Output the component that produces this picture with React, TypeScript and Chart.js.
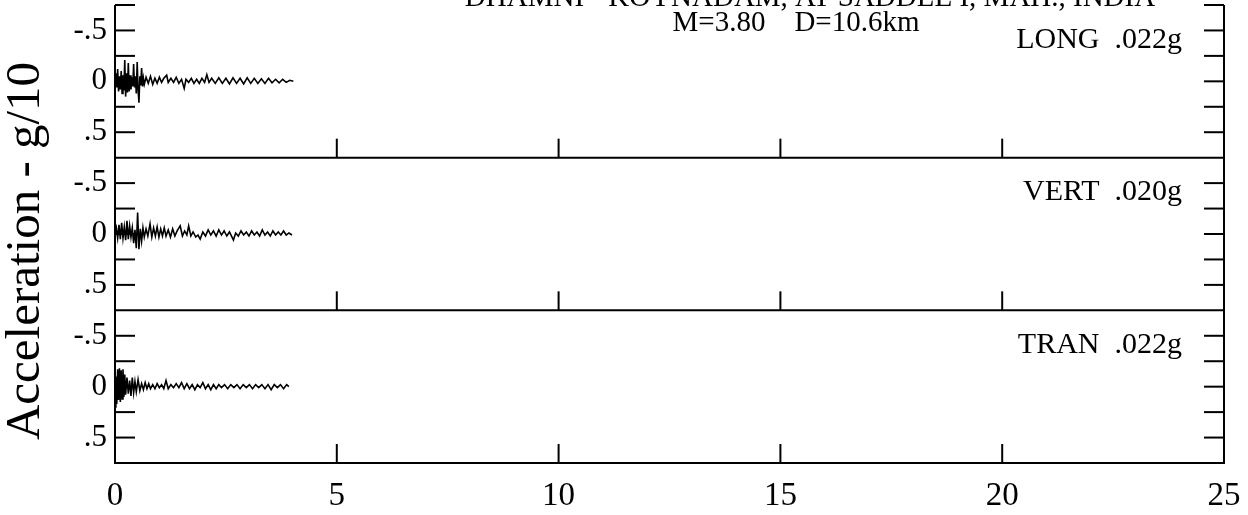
import React, { useEffect, useRef } from "react";
import { Chart, registerables } from "chart.js";

Chart.register(...registerables);

// ---- Data (time in s, acceleration in g/10) ----
const titleLine1 = "DHAMNI - KOYNADAM, AT SADDLE I, MAH., INDIA";
const titleLine2 = "M=3.80    D=10.6km";
const yAxisTitle = "Acceleration - g/10";

const xTickValues = [0, 5, 10, 15, 20, 25];
const yTickValues = [-0.5, 0, 0.5];
const yTickLabels = ["-.5", "0", ".5"];
const yMinorTicks = [-0.75, -0.5, -0.25, 0, 0.25, 0.5];

const componentNames = ["LONG", "VERT", "TRAN"];
const peakLabels = [".022g", ".020g", ".022g"];

const longTime = [
  0, 0.02, 0.04, 0.06, 0.08, 0.1, 0.12, 0.14, 0.16, 0.18, 0.2, 0.22, 0.24, 0.26, 0.28, 0.3, 0.32, 0.34, 0.36, 0.38,
  0.4, 0.42, 0.44, 0.46, 0.48, 0.5, 0.52, 0.54, 0.56, 0.58, 0.6, 0.62, 0.64, 0.66, 0.7, 0.75, 0.8, 0.85, 0.9, 0.95,
  1.0, 1.05, 1.1, 1.165, 1.2, 1.26, 1.32, 1.38, 1.44, 1.5, 1.56, 1.6, 1.66, 1.72, 1.78, 1.84, 1.9, 1.96, 2.02, 2.07,
  2.12, 2.18, 2.26, 2.34, 2.42, 2.5, 2.58, 2.66, 2.74, 2.82, 2.9, 2.98, 3.06, 3.14, 3.22, 3.3, 3.38, 3.46, 3.54, 3.62,
  3.7, 3.78, 3.86, 3.94, 4.02,
];
const longAccel = [
  0, -0.08, 0.06, -0.12, 0.1, -0.05, 0.08, -0.1, 0.12, -0.06, 0.09, -0.21, 0.15, -0.08, 0.11, -0.18, 0.1, -0.06, 0.08, -0.04,
  0.05, -0.17, 0.06, -0.05, 0.12, -0.19, 0.08, 0.21, -0.05, 0.04, -0.13, 0.05, -0.03, 0.03, -0.04, 0.02, -0.05, 0.03, -0.03, 0.02,
  -0.04, 0.01, -0.03, -0.06, 0.01, -0.03, 0.01, -0.04, 0.02, -0.02, 0.07, -0.02, 0.01, -0.03, 0.02, -0.02, 0.02, -0.03, 0.01, -0.065,
  0.01, -0.03, 0.02, -0.035, 0.02, -0.03, 0.025, -0.035, 0.02, -0.03, 0.025, -0.035, 0.02, -0.03, 0.02, -0.025, 0.02, -0.03, 0.015, -0.02,
  0.015, -0.02, 0.01, -0.01, 0,
];

const vertTime = [
  0, 0.03, 0.06, 0.09, 0.12, 0.15, 0.18, 0.21, 0.24, 0.27, 0.3, 0.33, 0.36, 0.39, 0.42, 0.45, 0.48, 0.51, 0.54, 0.57,
  0.6, 0.63, 0.66, 0.7, 0.74, 0.79, 0.83, 0.87, 0.91, 0.95, 0.99, 1.03, 1.07, 1.11, 1.15, 1.2, 1.25, 1.3, 1.35, 1.4,
  1.47, 1.52, 1.57, 1.62, 1.66, 1.71, 1.76, 1.82, 1.87, 1.92, 1.98, 2.04, 2.1, 2.16, 2.22, 2.28, 2.34, 2.4, 2.46, 2.52,
  2.58, 2.67, 2.72, 2.78, 2.84, 2.9, 2.96, 3.02, 3.08, 3.14, 3.2, 3.26, 3.32, 3.38, 3.44, 3.5, 3.56, 3.62, 3.68, 3.74,
  3.8, 3.86, 3.92, 3.99,
];
const vertAccel = [
  0, -0.06, 0.04, -0.09, 0.05, -0.11, 0.04, -0.07, 0.06, -0.13, 0.05, -0.08, 0.03, -0.06, 0.09, -0.04, 0.14, -0.21, 0.15, -0.05,
  0.07, -0.06, 0.03, -0.05, 0.02, -0.1, 0.03, -0.06, 0.02, -0.07, 0.03, -0.05, 0.02, -0.06, 0.02, -0.04, 0.03, -0.05, 0.02, -0.03,
  -0.08, 0.02, -0.03, 0.01, -0.08, 0.02, -0.02, 0.03, 0.01, 0.05, -0.02, 0.02, -0.04, 0.01, -0.03, 0.02, -0.04, 0.01, -0.03, 0.02,
  -0.02, 0.06, -0.01, 0.02, -0.03, 0.01, -0.02, 0.02, -0.03, 0.01, -0.02, 0.02, -0.04, 0.01, -0.02, 0.02, -0.03, 0.01, -0.02, 0.01,
  -0.03, 0.01, -0.01, 0.01,
];

const tranTime = [
  0, 0.02, 0.04, 0.06, 0.08, 0.1, 0.12, 0.14, 0.16, 0.18, 0.2, 0.22, 0.24, 0.27, 0.3, 0.33, 0.36, 0.39, 0.42, 0.45,
  0.48, 0.52, 0.56, 0.6, 0.64, 0.68, 0.72, 0.76, 0.8, 0.85, 0.9, 0.95, 1.0, 1.05, 1.1, 1.15, 1.2, 1.26, 1.32, 1.38,
  1.44, 1.5, 1.56, 1.62, 1.68, 1.74, 1.8, 1.86, 1.92, 1.98, 2.04, 2.1, 2.16, 2.22, 2.28, 2.34, 2.4, 2.47, 2.54, 2.61,
  2.68, 2.75, 2.82, 2.89, 2.96, 3.03, 3.1, 3.17, 3.24, 3.31, 3.38, 3.45, 3.52, 3.59, 3.66, 3.73, 3.8, 3.87, 3.92,
];
const tranAccel = [
  0.2, -0.1, 0.17, -0.17, 0.13, -0.18, 0.15, -0.16, 0.12, -0.17, 0.1, -0.12, 0.08, -0.09, 0.07, -0.06, 0.09, -0.09, 0.06, -0.05,
  0.05, -0.07, 0.04, -0.03, 0.03, -0.04, 0.02, -0.03, 0.02, -0.02, 0.02, -0.03, 0.01, -0.02, 0.02, -0.06, 0.02, -0.02, 0.01, -0.03,
  0.01, -0.04, 0.02, -0.03, 0.02, -0.02, 0.03, -0.02, 0.01, -0.04, 0.02, -0.02, 0.03, -0.02, 0.02, -0.02, 0.01, -0.02, 0.02, -0.02,
  0.01, -0.02, 0.02, -0.02, 0.01, -0.02, 0.02, -0.02, 0.01, -0.02, 0.02, -0.02, 0.03, -0.02, 0.01, -0.02, 0.02, -0.02, 0,
];

const SERIF = "'Liberation Serif', 'Times New Roman', serif";
const panelIds = ["yLong", "yVert", "yTran"];

const toPoints = (t: number[], a: number[]) => t.map((v, i) => ({ x: v, y: a[i] }));

const framePlugin = {
  id: "seismoFrame",
  afterDraw(chart: any) {
    const ctx: CanvasRenderingContext2D = chart.ctx;
    const xs = chart.scales.x;
    const { left, right, top, bottom } = chart.chartArea;
    const line = (x1: number, y1: number, x2: number, y2: number) => {
      ctx.beginPath();
      ctx.moveTo(x1, y1);
      ctx.lineTo(x2, y2);
      ctx.stroke();
    };
    ctx.save();
    ctx.strokeStyle = "#000";
    ctx.fillStyle = "#000";
    ctx.lineWidth = 2;
    ctx.lineCap = "butt";
    line(left, top, left, bottom + 1);
    line(right, top, right, bottom + 1);

    panelIds.forEach((id, i) => {
      const s = chart.scales[id];
      const yb = s.getPixelForValue(0.75);
      line(left - 1, yb, right + 1, yb);
      const ticks = i === 0 ? yMinorTicks : yMinorTicks.slice(1);
      ticks.forEach((v) => {
        const y = s.getPixelForValue(v);
        line(left, y, left + 20, y);
        line(right - 20, y, right, y);
      });
      xTickValues
        .filter((v) => v > xTickValues[0] && v < xTickValues[xTickValues.length - 1])
        .forEach((v) => {
          const x = xs.getPixelForValue(v);
          line(x, yb, x, yb - 19);
        });
      ctx.font = `31px ${SERIF}`;
      ctx.textAlign = "right";
      ctx.textBaseline = "middle";
      yTickValues.forEach((v, k) => {
        ctx.fillText(yTickLabels[k], left - 8, s.getPixelForValue(v));
      });
      ctx.font = `30px ${SERIF}`;
      ctx.textBaseline = "alphabetic";
      ctx.fillText(`${componentNames[i]}  ${peakLabels[i]}`, right - 42, s.getPixelForValue(-0.33));
    });

    ctx.font = `29px ${SERIF}`;
    ctx.textAlign = "center";
    ctx.textBaseline = "alphabetic";
    ctx.fillText(titleLine1, 810, 6);
    ctx.fillText(titleLine2, 796, 31);

    ctx.save();
    ctx.translate(26, 251);
    ctx.rotate(-Math.PI / 2);
    ctx.font = `49px ${SERIF}`;
    ctx.textAlign = "center";
    ctx.textBaseline = "middle";
    ctx.fillText(yAxisTitle, 0, 0);
    ctx.restore();
    ctx.restore();
  },
};

const panelScale = (): any => ({
  type: "linear",
  position: "left",
  stack: "panels",
  stackWeight: 1,
  min: -0.75,
  max: 0.75,
  reverse: true,
  grid: { display: false, drawTicks: false },
  border: { display: false },
  ticks: { display: false },
  afterFit: (s: any) => {
    s.width = 0;
  },
});

export default function App() {
  const ref = useRef<HTMLCanvasElement | null>(null);
  useEffect(() => {
    if (!ref.current) return;
    const series = [
      toPoints(longTime, longAccel),
      toPoints(vertTime, vertAccel),
      toPoints(tranTime, tranAccel),
    ];
    const chart = new Chart(ref.current, {
      type: "line",
      data: {
        datasets: series.map((d, i) => ({
          label: componentNames[i],
          data: d,
          yAxisID: panelIds[i],
          xAxisID: "x",
          borderColor: "#000",
          borderWidth: 1.6,
          pointRadius: 0,
          tension: 0,
          fill: false,
        })),
      },
      options: {
        animation: false,
        responsive: false,
        devicePixelRatio: 1,
        events: [],
        layout: { padding: { left: 115, right: 24, top: 5, bottom: 0 } },
        plugins: { legend: { display: false }, tooltip: { enabled: false }, title: { display: false } },
        scales: {
          x: {
            type: "linear",
            position: "bottom",
            min: xTickValues[0],
            max: xTickValues[xTickValues.length - 1],
            afterBuildTicks: (s: any) => {
              s.ticks = xTickValues.map((v) => ({ value: v }));
            },
            ticks: {
              color: "#000",
              font: { family: SERIF, size: 33 },
              padding: 14,
              maxRotation: 0,
              autoSkip: false,
            },
            grid: { display: false, drawTicks: false },
            border: { display: false },
            afterFit: (s: any) => {
              s.height = 52;
              s.paddingLeft = 0;
              s.paddingRight = 0;
            },
          },
          yTran: panelScale(),
          yVert: panelScale(),
          yLong: panelScale(),
        } as any,
      },
      plugins: [framePlugin],
    });
    return () => chart.destroy();
  }, []);
  return (
    <div style={{ position: "absolute", left: 0, top: 0, width: 1248, height: 515, background: "#fff" }}>
      <canvas ref={ref} width={1248} height={515} style={{ display: "block" }} />
    </div>
  );
}
